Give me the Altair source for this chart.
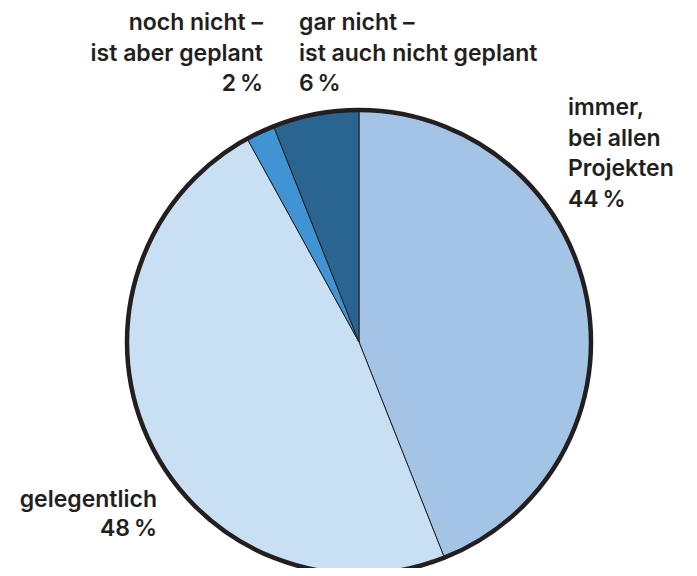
import math
import altair as alt
import pandas as pd

categories = ["immer", "gelegentlich", "noch nicht", "gar nicht"]
label_lines = [
    ["immer,", "bei allen", "Projekten"],
    ["gelegentlich"],
    ["noch nicht –", "ist aber geplant"],
    ["gar nicht –", "ist auch nicht geplant"],
]
values = [44, 48, 2, 6]
colors = ["#a4c4e6", "#c9e0f4", "#4194d3", "#2a6491"]

W, H = 681, 560
CX, CY = 351, 334
R = 232
INK = "#231f20"

df = pd.DataFrame({
    "cat": categories,
    "value": values,
    "idx": list(range(len(categories))),
})

slices = alt.Chart(df).mark_arc(
    outerRadius=R, stroke=INK, strokeWidth=1
).encode(
    theta=alt.Theta("value:Q", stack=True),
    order=alt.Order("idx:Q"),
    color=alt.Color("cat:N", scale=alt.Scale(domain=categories, range=colors), legend=None),
    x=alt.value(CX),
    y=alt.value(CY),
)

ring = alt.Chart(pd.DataFrame({"v": [1]})).mark_arc(
    outerRadius=R, filled=False, stroke=INK, strokeWidth=4.5
).encode(
    theta=alt.value(0),
    theta2=alt.value(6.3),
    x=alt.value(CX),
    y=alt.value(CY),
)

def label(i, x, y, align, lh=30.5):
    text = "\n".join(label_lines[i] + [f"{values[i]}\u2009%"])
    d = pd.DataFrame({"t": [text]})
    return alt.Chart(d).mark_text(
        align=align, baseline="alphabetic", font="Inter", fontSize=23,
        fontWeight=600, color=INK, lineBreak="\n", lineHeight=lh,
    ).encode(text="t:N", x=alt.value(x), y=alt.value(y))

labels = [
    label(0, 568 - 8, 115 - 8, "left"),
    label(1, 157 - 8, 507 - 8, "right", 29),
    label(2, 263 - 8, 30 - 8, "right"),
    label(3, 299 - 8, 30 - 8, "left"),
]

chart = alt.layer(slices, ring, *labels).properties(
    width=W, height=H, autosize="none", padding=0
).configure_view(stroke=None)

chart.save("out.html", embed_options={"renderer": "svg", "actions": False})
